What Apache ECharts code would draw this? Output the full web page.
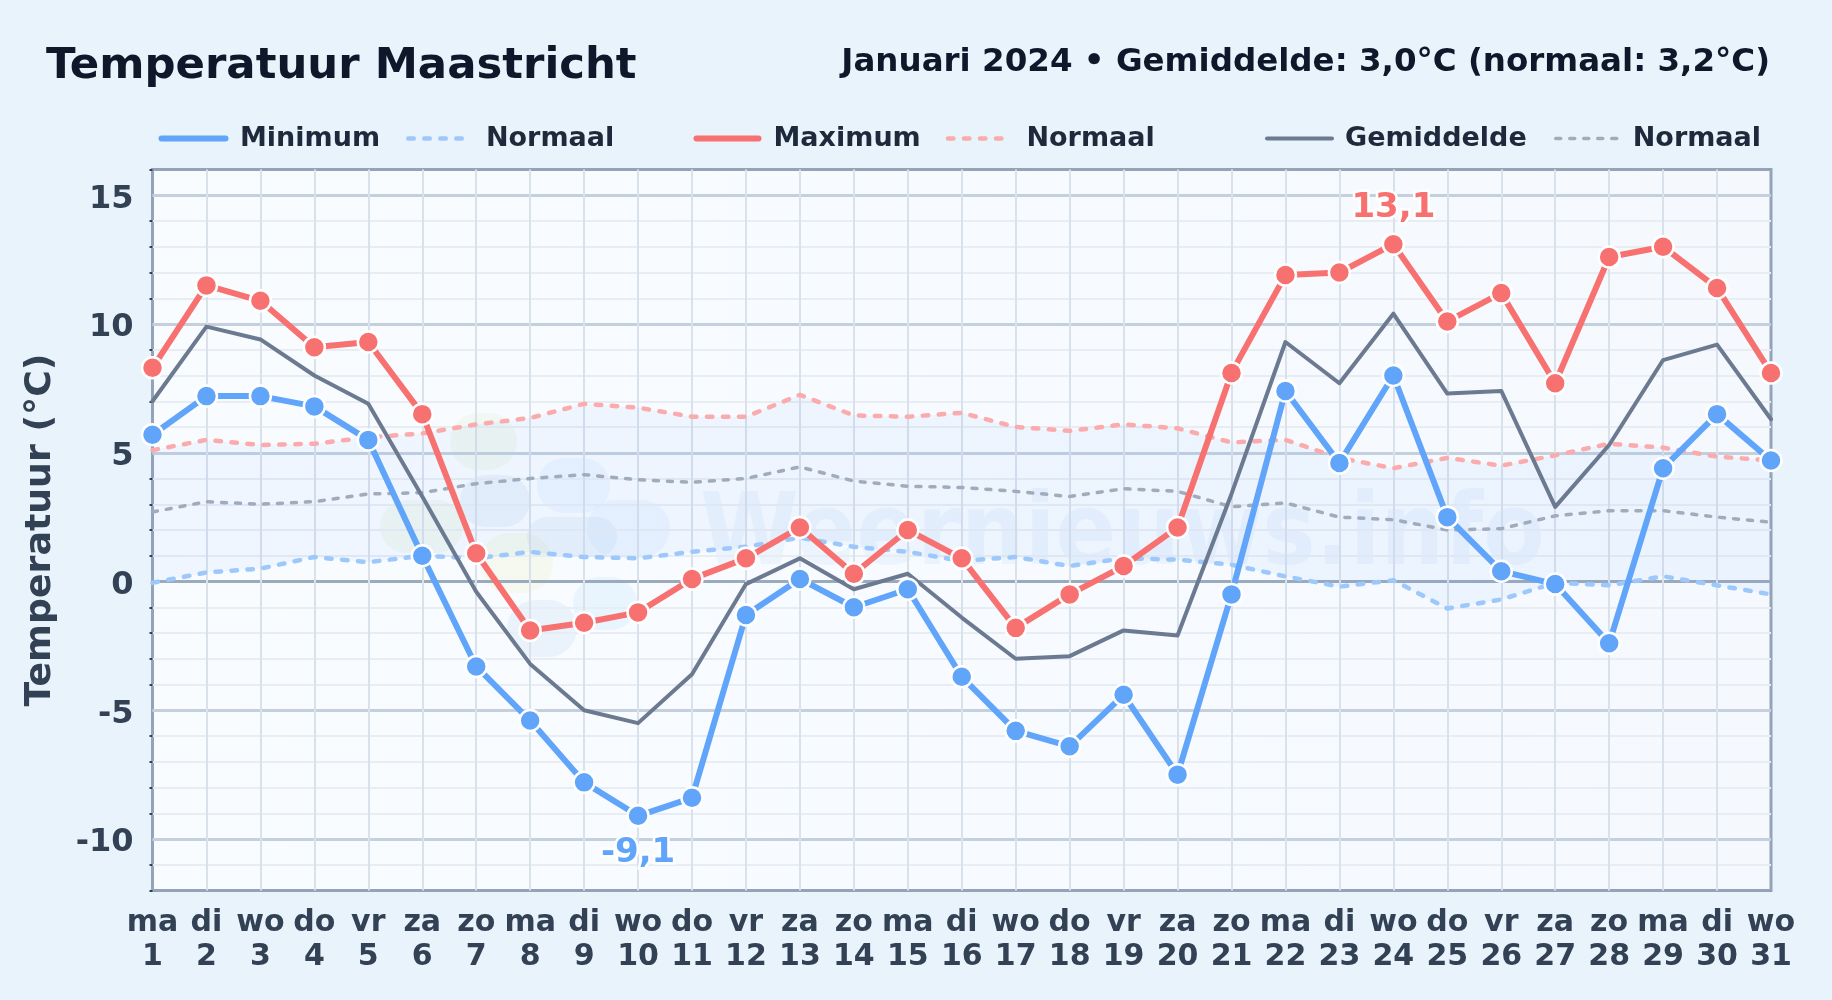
<!DOCTYPE html>
<html><head><meta charset="utf-8">
<style>html,body{margin:0;padding:0;background:#e9f3fc}#c{width:1832px;height:1000px}</style>
<script src="https://cdn.jsdelivr.net/npm/echarts@6/dist/echarts.min.js"></script>
</head><body><div id="c"></div>
<script>
const dayNames = ['ma','di','wo','do','vr','za','zo','ma','di','wo','do','vr','za','zo','ma','di','wo','do','vr','za','zo','ma','di','wo','do','vr','za','zo','ma','di','wo'];
const dayNumbers = [1,2,3,4,5,6,7,8,9,10,11,12,13,14,15,16,17,18,19,20,21,22,23,24,25,26,27,28,29,30,31];
const minimum = [5.7,7.2,7.2,6.8,5.5,1.0,-3.3,-5.4,-7.8,-9.1,-8.4,-1.3,0.1,-1.0,-0.3,-3.7,-5.8,-6.4,-4.4,-7.5,-0.5,7.4,4.6,8.0,2.5,0.4,-0.1,-2.4,4.4,6.5,4.7];
const maximum = [8.3,11.5,10.9,9.1,9.3,6.5,1.1,-1.9,-1.6,-1.2,0.1,0.9,2.1,0.3,2.0,0.9,-1.8,-0.5,0.6,2.1,8.1,11.9,12.0,13.1,10.1,11.2,7.7,12.6,13.0,11.4,8.1];
const gemiddelde = [7.0,9.9,9.4,8.0,6.9,3.3,-0.4,-3.2,-5.0,-5.5,-3.6,-0.1,0.9,-0.3,0.3,-1.4,-3.0,-2.9,-1.9,-2.1,3.4,9.3,7.7,10.4,7.3,7.4,2.9,5.3,8.6,9.2,6.3];
const normaalMin = [-0.05,0.35,0.5,0.95,0.75,1.0,0.9,1.15,0.95,0.9,1.15,1.35,1.7,1.35,1.15,0.8,0.95,0.6,0.9,0.85,0.65,0.2,-0.2,0.05,-1.05,-0.7,-0.05,-0.15,0.2,-0.15,-0.5];
const normaalMax = [5.1,5.5,5.3,5.35,5.6,5.75,6.1,6.35,6.9,6.75,6.4,6.4,7.25,6.45,6.4,6.55,6.0,5.85,6.1,5.95,5.4,5.5,4.8,4.4,4.8,4.5,4.9,5.35,5.2,4.85,4.7];
const normaalGem = [2.7,3.1,3.0,3.1,3.4,3.45,3.8,4.0,4.15,3.95,3.85,4.0,4.45,3.9,3.7,3.65,3.5,3.3,3.6,3.5,2.9,3.05,2.5,2.4,2.0,2.05,2.55,2.75,2.75,2.5,2.3];
const majorTicks = [-10,-5,5,10,15];
const zeroTick = [0];
const minorTicks = [-12,-11,-9,-8,-7,-6,-4,-3,-2,-1,1,2,3,4,6,7,8,9,11,12,13,14,16];
const titleText = 'Temperatuur Maastricht';
const subtitleText = 'Januari 2024 • Gemiddelde: 3,0°C (normaal: 3,2°C)';
const yAxisTitle = 'Temperatuur (°C)';
const watermarkText = 'Weernieuws.info';

const FONT = '"DejaVu Sans"';
const comma = v => String(v).replace('.', ',');
const cats = dayNames.map((d,i) => d + '\n' + dayNumbers[i]);

function flagged(values, idx, color, pos, distance) {
  return values.map((v,i) => i !== idx ? v : ({
    value: v,
    label: { show:true, position:pos, distance, formatter: p => comma(p.value),
      fontFamily:FONT, fontWeight:'bold', fontSize:34, color, textBorderColor:'#ffffff', textBorderWidth:5 }
  }));
}
function lineSeries(name, data, color, width, dash, extra) {
  return Object.assign({
    name, type:'line', data, clip:false, z:3, silent:true, animation:false,
    symbol:'none',
    lineStyle:{ color, width, type: dash || 'solid', cap:'round', join:'round' },
    itemStyle:{ color }
  }, extra||{});
}
const marker = { symbol:'circle', symbolSize:21, showSymbol:true, showAllSymbol:true };
const markStyle = c => ({ color:c, borderColor:'#ffffff', borderWidth:2.5, opacity:1 });

function legendItem(name, left, itemWidth, lineWidth, dash, color, gap) {
  return { show:true, data:[name], left, top:125, itemWidth, itemHeight:30, itemGap:0, padding:0,
    formatter:()=> name.split('|')[0],
    selectedMode:false,
    itemStyle:{ opacity:0, borderWidth:0 },
    lineStyle:{ color, width:lineWidth, type: dash || 'solid', cap:'round', opacity:1 },
    textStyle:{ fontFamily:FONT, fontWeight:'bold', fontSize:27, color:'#1e293b', padding:[0,0,0,gap] } };
}
const blob = (x,y,w,h,fill,op) => ({ type:'rect', shape:{x,y,width:w,height:h,r:Math.min(w,h)*0.5}, style:{fill,opacity:op}, silent:true });

const chart = echarts.init(document.getElementById('c'), null, {renderer:'canvas', width:1832, height:1000});
const axisBase = { type:'value', min:-12, max:16, position:'left', scale:false };
chart.setOption({
  animation:false,
  backgroundColor:'#e9f3fc',
  title:[
    { text:titleText, left:41, top:40, textStyle:{ fontFamily:FONT, fontWeight:'bold', fontSize:43.4, color:'#0f172a' } },
    { text:subtitleText, right:57, top:41, textStyle:{ fontFamily:FONT, fontWeight:'bold', fontSize:32.5, color:'#0f172a' } }
  ],
  legend:[
    legendItem('Minimum', 158.5, 64, 6, null, '#60a5fa', 9.5),
    legendItem('Normaal|min', 406, 56, 4.5, [5.5,10.5], '#9cc8fb', 16.7),
    legendItem('Maximum', 693.5, 62, 6, null, '#f87171', 10),
    legendItem('Normaal|max', 945.7, 58, 4.5, [5.5,10.5], '#fbabab', 15.5),
    legendItem('Gemiddelde', 1265, 65, 4, null, '#6b7a90', 8),
    legendItem('Normaal|gem', 1554, 65, 3.5, [5,9], '#a0abbb', 7)
  ],
  grid:{ left:152.5, right:61, top:169.5, bottom:109.5, show:true, backgroundColor:{type:'linear',x:0,y:0,x2:1,y2:0,
      colorStops:[{offset:0,color:'#f9fcff'},{offset:1,color:'#f5f9fe'}]}, borderColor:'#94a3b8', borderWidth:3, containLabel:false },
  xAxis:{ type:'category', data:cats, boundaryGap:false, position:'bottom',
    axisLine:{onZero:false, show:false}, axisTick:{show:false},
    splitLine:{show:true, interval:0, showMinLine:false, showMaxLine:false, lineStyle:{color:'#d9e1ea', width:2}},
    axisLabel:{ interval:0, margin:16, hideOverlap:false, fontFamily:FONT, fontWeight:'bold', fontSize:30, lineHeight:34, color:'#334155', showMinLabel:true, showMaxLabel:true } },
  yAxis:[
    Object.assign({}, axisBase, { axisLine:{show:false},
      axisTick:{show:true, length:3, customValues:minorTicks, lineStyle:{color:'#334155', width:2}},
      axisLabel:{show:false},
      splitLine:{show:true, showMinLine:false, showMaxLine:false, lineStyle:{color:'#e8edf3', width:2}} }),
    Object.assign({}, axisBase, { axisLine:{show:false},
      axisTick:{show:false, customValues:majorTicks},
      axisLabel:{show:false},
      splitLine:{show:true, lineStyle:{color:'#c5d0de', width:3}} }),
    Object.assign({}, axisBase, { axisLine:{show:false},
      axisTick:{show:false, customValues:zeroTick},
      axisLabel:{show:false},
      splitLine:{show:true, lineStyle:{color:'#9caabd', width:3}} }),
    Object.assign({}, axisBase, { axisLine:{show:false},
      name:yAxisTitle, nameLocation:'middle', nameGap:94, nameRotate:90,
      nameTextStyle:{ fontFamily:FONT, fontWeight:'bold', fontSize:36.3, color:'#334155' },
      axisTick:{show:false, customValues:majorTicks.concat(zeroTick)},
      axisLabel:{show:true, customValues:majorTicks.concat(zeroTick), margin:19,
        formatter:v=>'{a|'+v+'}',
        rich:{a:{padding:[8,0,0,0], fontFamily:FONT, fontWeight:'bold', fontSize:32, color:'#334155'}}},
      splitLine:{show:false} })
  ],
  graphic:{ z:1, elements:[
    blob(450,413,67,57,'#d9ecc0',0.2), blob(380,500,83,53,'#d9ecc0',0.2), blob(480,533,73,60,'#e6efb0',0.2),
    blob(460,475,70,52,'#93bde6',0.14), blob(537,458,73,55,'#a9d6f8',0.14), blob(587,500,83,57,'#a9d6f8',0.14),
    blob(527,517,90,40,'#93bde6',0.12), blob(507,600,70,57,'#93bde6',0.14), blob(573,577,64,53,'#a9dcf8',0.18),
    { type:'text', x:700, y:588, scaleX:0.895, silent:true,
      style:{ text:watermarkText, fontFamily:FONT, fontWeight:'bold', fontSize:100, fill:'#5b9be0', opacity:0.07, textVerticalAlign:'bottom', textBaseline:'alphabetic' } }
  ]},
  series:[
    { name:'band', type:'custom', data:[0], clip:false, z:2, silent:true, animation:false,
      renderItem:(params, api) => {
        const pts = normaalMax.map((v,i)=>api.coord([i,v])).concat(normaalMin.map((v,i)=>api.coord([i,v])).reverse());
        return { type:'polygon', shape:{points:pts}, style:{fill:'#3b82f6', opacity:0.05} };
      } },
    lineSeries('Normaal|min', normaalMin, '#9cc8fb', 4.5, [5.5,10.5]),
    lineSeries('Normaal|max', normaalMax, '#fbabab', 4.5, [5.5,10.5]),
    lineSeries('Normaal|gem', normaalGem, '#a0abbb', 3.5, [5,9]),
    lineSeries('Gemiddelde', gemiddelde, '#6b7a90', 4, null, {z:4}),
    lineSeries('Minimum', flagged(minimum, minimum.indexOf(Math.min(...minimum)), '#60a5fa', 'bottom', 9), '#60a5fa', 6, null,
      Object.assign({z:5, itemStyle:markStyle('#60a5fa')}, marker)),
    lineSeries('Maximum', flagged(maximum, maximum.indexOf(Math.max(...maximum)), '#f87171', 'top', 7), '#f87171', 6, null,
      Object.assign({z:6, itemStyle:markStyle('#f87171')}, marker))
  ]
});
</script></body></html>
